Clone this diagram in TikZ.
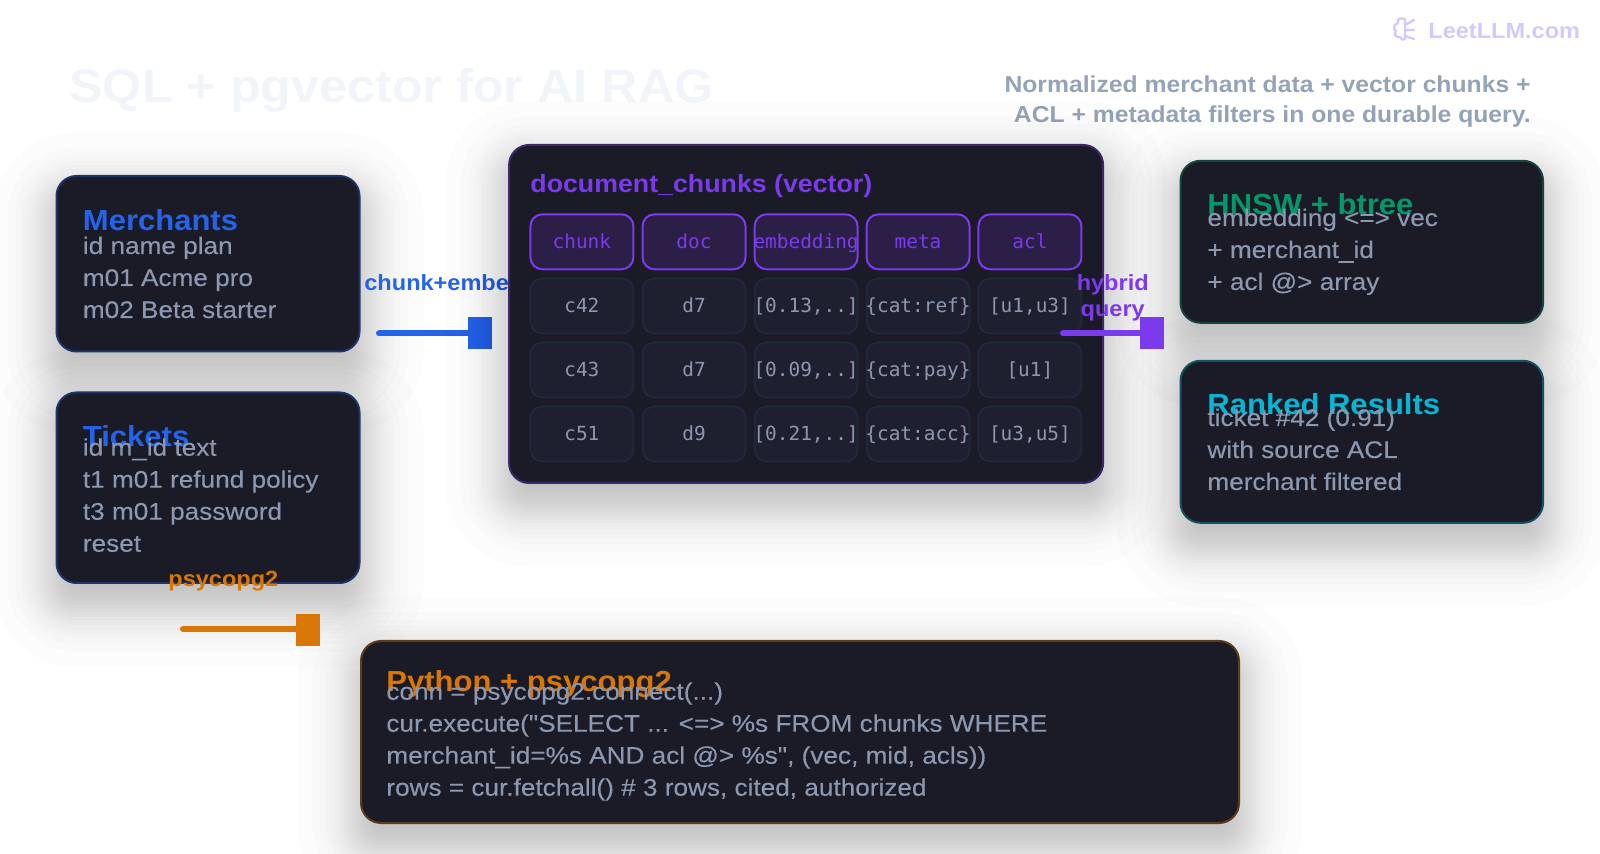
\documentclass[tikz,border=0pt]{standalone}
\usepackage{fontspec}
\setmainfont{Liberation Sans}
\setmonofont{DejaVu Sans Mono}
\newfontfamily\headfont[FakeStretch=1.07]{Liberation Sans Bold}
\newfontfamily\bodyfont[FakeStretch=1.09,FakeBold=0.2]{Liberation Sans}
\definecolor{panelbg}{HTML}{1A1B26}
\definecolor{bodygray}{HTML}{8C98AF}
\definecolor{subgray}{HTML}{94A3B8}
\definecolor{titlepale}{HTML}{F1F5F9}
\definecolor{markpale}{HTML}{D4C8FE}
\definecolor{blueline}{HTML}{2563EB}
\definecolor{purpleline}{HTML}{7C3AED}
\definecolor{orangeline}{HTML}{D97706}
\definecolor{greenline}{HTML}{059669}
\definecolor{cyanline}{HTML}{06B6D4}
\definecolor{headcell}{HTML}{2C1F47}
\definecolor{datacell}{HTML}{1E2030}
\definecolor{dataedge}{HTML}{1E293B}
\tikzset{
  panel/.style n args={3}{shape=rectangle,draw=#3!35!panelbg,fill=panelbg,line width=1pt,rounded corners=10pt,
    minimum width=#1*0.5pt,minimum height=#2*0.5pt,inner sep=0pt},
  paneltitle/.style={anchor=base west,inner sep=0pt,font=\headfont\fontsize{14.5}{16}\selectfont},
  panelbody/.style={anchor=base west,inner sep=0pt,align=left,text=bodygray,font=\bodyfont\fontsize{12}{16}\selectfont},
  headcol/.style={shape=rectangle,draw=purpleline,fill=headcell,text=purpleline,line width=1pt,rounded corners=6pt,
    minimum width=51.5pt,minimum height=27.5pt,inner sep=0pt,text height=8pt,text depth=1.5pt,font=\ttfamily\fontsize{9.7}{12}\selectfont},
  datacol/.style={shape=rectangle,draw=dataedge,fill=datacell,text=bodygray,line width=1pt,rounded corners=6pt,
    minimum width=51.5pt,minimum height=27.5pt,inner sep=0pt,text height=8pt,text depth=1.5pt,font=\ttfamily\fontsize{9.7}{12}\selectfont},
  linklabel/.style={inner sep=0pt,font=\headfont\fontsize{11}{13}\selectfont},
  tipbox/.style n args={2}{shape=rectangle,fill=#2,minimum width=#1*0.5pt,minimum height=16pt,inner sep=0pt},
  link/.style={line width=3pt,line cap=round}
}
\newcommand{\celltext}[1]{\makebox[0pt]{#1}}
% centre x, centre y, width, height of the panel above it
\newcommand{\softshadow}[4]{%
  \foreach \g in {-64,-49,-41,-35,-31,-27,-23,-20,-17,-14,-12,-9,-6,-4,-1,1,4,6,9,12,14,17,20,23,27,31,35,41,49,64}{%
    \pgfmathsetmacro{\r}{max(2,20+\g)*0.5}
    \fill[black,opacity=.0118,rounded corners=\r pt]
      ({#1-#3/2-\g},{#2-#4/2-\g+20}) rectangle ({#1+#3/2+\g},{#2+#4/2+\g+20});
  }}
\begin{document}
\begin{tikzpicture}[x=0.5pt,y=-0.5pt]
\useasboundingbox (0,0) rectangle (1600,854);
\node(maintitle) at (69,103)[anchor=base west,inner sep=0pt,text=titlepale,font=\headfont\fontsize{23.5}{28}\selectfont] {SQL + pgvector for AI RAG};
\node(subtitle) at (1531,122.7)[anchor=base east,inner sep=0pt,align=right,text=subgray,font=\headfont\fontsize{11.55}{15}\selectfont] {Normalized merchant data + vector chunks +\\ACL + metadata filters in one durable query.};
\node(watermark) at (1428,38.3)[anchor=base west,inner sep=0pt,text=markpale,font=\headfont\fontsize{11}{13}\selectfont] {LeetLLM.com};
% brain mark
\coordinate(brain) at (1393,17);
\draw[markpale,line width=1.2pt,line cap=round,line join=round,shift={(brain)}]
  (12,2) .. controls (6,0) and (4,3) .. (5,6) .. controls (0,8) and (0,12) .. (3,14)
  .. controls (0,17) and (3,21) .. (7,20) .. controls (9,24) and (13,23) .. (12,19) -- (12,2)
  (12,8) -- (21,3) (12,13) -- (21,13) (12,19) -- (21,22);

\softshadow{208}{263.75}{303}{175.5}
\node(merchants) at (208,263.75)[panel={303}{175.5}{blueline}] {};
\node(merchantstitle) at (82.5,231)[paneltitle,text=blueline] {Merchants};
\node(merchantsbody) at (82.5,318)[panelbody] {id name plan\\m01 Acme pro\\m02 Beta starter};

\softshadow{208}{487.75}{303}{190.5}
\node(tickets) at (208,487.75)[panel={303}{190.5}{blueline}] {};
\node(ticketstitle) at (82.5,447)[paneltitle,text=blueline] {Tickets};
\node(ticketsbody) at (82.5,551.7)[panelbody] {id m\_id text\\t1 m01 refund policy\\t3 m01 password\\reset};

\node(chunklabel) at (364,291)[anchor=base west,linklabel,text=blueline] {chunk+embed};
\coordinate(bluestart) at (379,333.5);
\node(bluetip) at (480,333.5)[tipbox={24}{blueline}] {};
\path[-,draw=blueline,link] (bluestart) -- (bluetip);

\softshadow{806.1}{314}{594}{338}
\node(chunks) at (806.1,314)[panel={594}{338}{purpleline}] {};
\node(chunkstitle) at (530,192.7)[anchor=base west,inner sep=0pt,text=purpleline,font=\headfont\fontsize{12.5}{16}\selectfont] {document\_chunks (vector)};

\node(h0) at (581.9,241.8)[headcol] {\celltext{chunk}};
\node(h1) at (694,241.8)[headcol] {\celltext{doc}};
\node(h2) at (806.1,241.8)[headcol] {\celltext{embedding}};
\node(h3) at (918,241.8)[headcol] {\celltext{meta}};
\node(h4) at (1029.9,241.8)[headcol] {\celltext{acl}};

\node(a0) at (581.9,306)[datacol] {\celltext{c42}};
\node(a1) at (694,306)[datacol] {\celltext{d7}};
\node(a2) at (806.1,306)[datacol] {\celltext{[0.13,..]}};
\node(a3) at (918,306)[datacol] {\celltext{\{cat:ref\}}};
\node(a4) at (1029.9,306)[datacol] {\celltext{[u1,u3]}};

\node(b0) at (581.9,370)[datacol] {\celltext{c43}};
\node(b1) at (694,370)[datacol] {\celltext{d7}};
\node(b2) at (806.1,370)[datacol] {\celltext{[0.09,..]}};
\node(b3) at (918,370)[datacol] {\celltext{\{cat:pay\}}};
\node(b4) at (1029.9,370)[datacol] {\celltext{[u1]}};

\node(c0) at (581.9,434)[datacol] {\celltext{c51}};
\node(c1) at (694,434)[datacol] {\celltext{d9}};
\node(c2) at (806.1,434)[datacol] {\celltext{[0.21,..]}};
\node(c3) at (918,434)[datacol] {\celltext{\{cat:acc\}}};
\node(c4) at (1029.9,434)[datacol] {\celltext{[u3,u5]}};

\softshadow{1361.8}{241.8}{362.5}{162}
\node(hnsw) at (1361.8,241.8)[panel={362.5}{162}{greenline}] {};
\node(hnswtitle) at (1207,215)[paneltitle,text=greenline] {HNSW + btree};
\node(hnswbody) at (1207,290)[panelbody] {embedding <=> vec\\+ merchant\_id\\+ acl @> array};

\softshadow{1361.8}{441.8}{362.5}{162}
\node(ranked) at (1361.8,441.8)[panel={362.5}{162}{cyanline}] {};
\node(rankedtitle) at (1207,415)[paneltitle,text=cyanline] {Ranked Results};
\node(rankedbody) at (1207,490)[panelbody] {ticket \#42 (0.91)\\with source ACL\\merchant filtered};

\softshadow{800}{732}{878}{182}
\node(python) at (800,732)[panel={878}{182}{orangeline}] {};
\node(pythontitle) at (386,691)[paneltitle,text=orangeline] {Python + psycopg2};
\node(pythonbody) at (386,795.7)[panelbody] {conn = psycopg2.connect(...)\\cur.execute("SELECT ... <=> \%s FROM chunks WHERE\\merchant\_id=\%s AND acl @> \%s", (vec, mid, acls))\\rows = cur.fetchall() \# 3 rows, cited, authorized};

\node(pycolabel) at (168,587)[anchor=base west,linklabel,text=orangeline] {psycopg2};
\coordinate(orangestart) at (183,629);
\node(orangetip) at (308,630)[tipbox={24}{orangeline}] {};
\path[-,draw=orangeline,link] (orangestart) -- (orangetip.west |- orangestart);

\node(hybridlabel) at (1112.7,317)[anchor=base,linklabel,align=center,text=purpleline] {hybrid\\query};
\coordinate(purplestart) at (1063,333.5);
\node(purpletip) at (1152,333.5)[tipbox={24}{purpleline}] {};
\path[-,draw=purpleline,link] (purplestart) -- (purpletip);
\end{tikzpicture}
\end{document}
